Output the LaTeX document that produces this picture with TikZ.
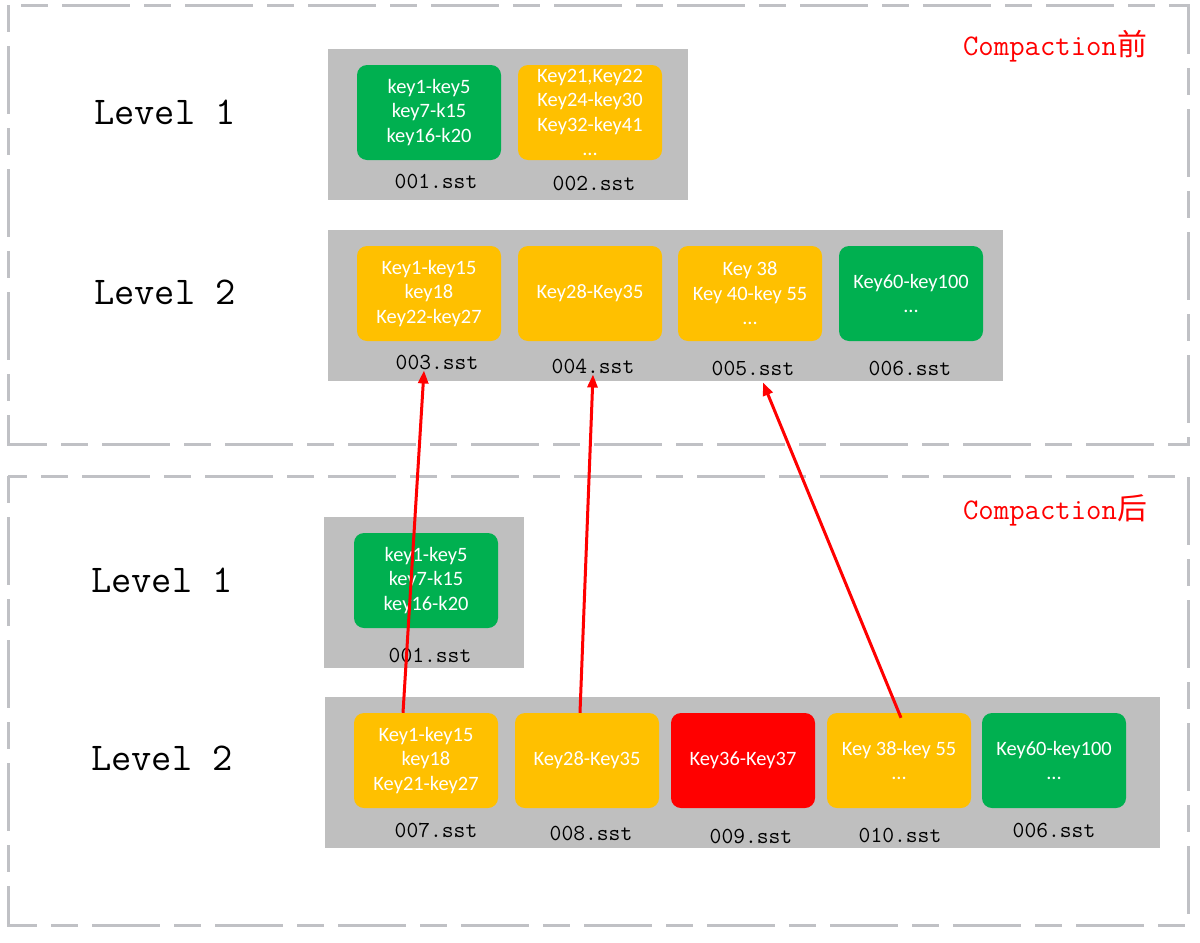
\documentclass[tikz,border=0pt]{standalone}
\usepackage{fontspec}
\setsansfont{Carlito}
\newfontfamily\cjk{Noto Sans CJK SC}
\usepackage{xcolor}
\usetikzlibrary{arrows.meta,calc}

\begin{document}
\begin{tikzpicture}[x=1bp,y=-1bp,
  frame/.style={draw=framegray,line width=3bp,dash pattern=on 27bp off 14bp on 68bp off 14bp},
  panel/.style={fill=panelgray,draw=none},
  sstbox/.style={rounded corners=10bp,minimum width=144bp,minimum height=95bp,inner sep=0pt,
    align=center,text=white,font=\sffamily\fontsize{20.5}{24.5}\selectfont},
  sstname/.style={inner sep=1bp,font=\ttfamily\fontsize{23}{24}\selectfont},
  levelname/.style={font=\ttfamily\fontsize{39.5}{40}\selectfont},
  stage/.style={text=red,font=\ttfamily\fontsize{30}{32}\selectfont},
  moved/.style={draw=red,line width=3bp,-{Triangle[length=13bp,width=10bp]}}]
\definecolor{framegray}{RGB}{192,193,197}
\definecolor{panelgray}{RGB}{191,191,191}
\definecolor{keygreen}{HTML}{00B050}
\definecolor{keyorange}{HTML}{FFC000}
\definecolor{keyred}{HTML}{FF0000}
\useasboundingbox (0,0) rectangle (1200,943);

% before compaction
\draw[frame] (8,5) rectangle (1188,444);
\node[stage] (before) at (1055,46) {Compaction{\cjk 前}};
\node[levelname] (lvUp1) at (165,112) {Level 1};
\node[levelname] (lvUp2) at (165,292) {Level 2};
\fill[panel] (328,49) rectangle (688,200);
\fill[panel] (328,230) rectangle (1003,381);
\foreach \n/\x/\lx/\ly/\col/\txt in {
  001/429/436/181/keygreen/{key1-key5\\key7-k15\\key16-k20},
  002/590/594/183/keyorange/{Key21,Key22\\Key24-key30\\Key32-key41\\...}} {
  \node[sstbox,fill=\col] (up\n) at (\x,112.5) {\txt};
  \node[sstname] (up\n sst) at (\lx,\ly) {\n.sst};
}
\foreach \n/\x/\lx/\ly/\col/\txt in {
  003/429/437/362/keyorange/{Key1-key15\\key18\\Key22-key27},
  004/590/593/366/keyorange/{Key28-Key35},
  005/750/753/368/keyorange/{Key 38\\Key 40-key 55\\...},
  006/911/910/368/keygreen/{Key60-key100\\...}} {
  \node[sstbox,fill=\col] (up\n) at (\x,293.5) {\txt};
  \node[sstname] (up\n sst) at (\lx,\ly) {\n.sst};
}

% after compaction
\draw[frame] (8,476) rectangle (1188,925);
\node[stage] (after) at (1055,510) {Compaction{\cjk 后}};
\node[levelname] (lvLo1) at (162,580) {Level 1};
\node[levelname] (lvLo2) at (162,758) {Level 2};
\fill[panel] (324,517) rectangle (524,668);
\fill[panel] (325,697) rectangle (1160,848);
\node[sstbox,fill=keygreen] (lo001) at (426,580.5) {key1-key5\\key7-k15\\key16-k20};
\node[sstname] (lo001sst) at (430,655) {001.sst};
\foreach \n/\x/\lx/\ly/\col/\txt in {
  007/426/436/830/keyorange/{Key1-key15\\key18\\Key21-key27},
  008/587/591/833/keyorange/{Key28-Key35},
  009/743/751/836/keyred/{Key36-Key37},
  010/899/900/835/keyorange/{Key 38-key 55\\...},
  006/1054/1054/830/keygreen/{Key60-key100\\...}} {
  \node[sstbox,fill=\col] (lo\n) at (\x,760.5) {\txt};
  \node[sstname] (lo\n sst) at (\lx,\ly) {\n.sst};
}

% where the new files come from
\draw[moved] ($(lo007.north)+(-23,0)$) -- ($(up003sst.south)+(-13,0)$);
\draw[moved] ($(lo008.north)+(-7,0)$) -- (up004sst.south);
\draw[moved] ($(lo010.north)+(2,5)$) -- ($(up005sst.south)+(10,6)$);
\end{tikzpicture}
\end{document}
